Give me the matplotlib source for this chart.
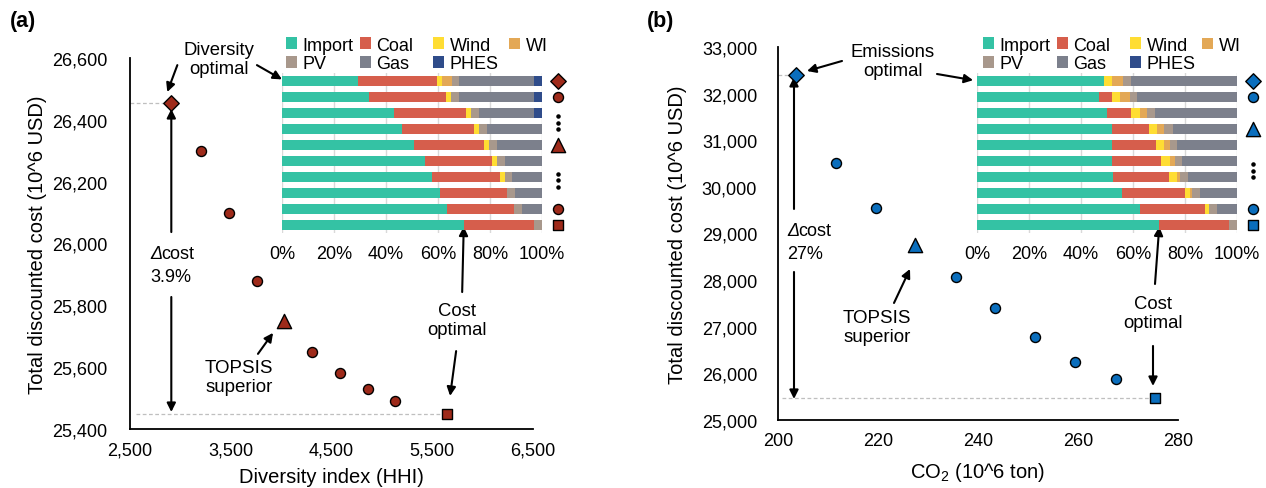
import matplotlib
matplotlib.use("Agg")
import matplotlib.pyplot as plt
from matplotlib.patches import Patch
from matplotlib.transforms import offset_copy
import numpy as np

plt.rcParams['font.family'] = ['Liberation Sans', 'DejaVu Sans']
plt.rcParams['mathtext.fontset'] = 'custom'
plt.rcParams['mathtext.rm'] = 'Liberation Sans'
plt.rcParams['mathtext.it'] = 'Liberation Sans:italic'
plt.rcParams['font.size'] = 13

# ---------------- data ----------------
# Panel (a): diversity (HHI) vs total cost
hhi = [2910, 3200, 3480, 3760, 4030, 4310, 4580, 4860, 5130, 5650]
cost_a = [26455, 26300, 26100, 25880, 25750, 25650, 25580, 25530, 25490, 25450]
marker_a = ['D', 'o', 'o', 'o', '^', 'o', 'o', 'o', 'o', 's']

# Panel (b): CO2 vs total cost
co2 = [203.6, 211.6, 219.6, 227.4, 235.5, 243.4, 251.4, 259.4, 267.6, 275.4]
cost_b = [32400, 30510, 29550, 28750, 28060, 27400, 26780, 26240, 25880, 25470]
marker_b = ['D', 'o', 'o', '^', 'o', 'o', 'o', 'o', 'o', 's']

techs = ['Import', 'Coal', 'Wind', 'WI', 'PV', 'Gas', 'PHES']
tech_colors = ['#34C2A4', '#D65E4C', '#FFDD33', '#E3A856', '#A8988C', '#7C808C', '#2F4C8A']

# generation mix (%) of the 10 solutions, inset (a)
a_import = [29.2, 33.5, 43.0, 46.3, 50.9, 55.0, 57.8, 60.6, 63.3, 69.9]
a_coal   = [30.3, 29.5, 27.7, 27.7, 26.8, 25.7, 26.0, 25.8, 26.0, 26.9]
a_wind   = [1.9, 1.9, 1.9, 1.8, 1.9, 1.9, 1.9, 0, 0, 0]
a_wi     = [3.8, 0, 0, 0, 0, 0, 0, 0, 0, 0]
a_pv     = [2.9, 3.1, 3.1, 2.9, 2.9, 3.1, 2.8, 3.1, 2.9, 3.2]
a_gas    = [28.7, 28.8, 21.1, 21.3, 17.5, 14.3, 11.5, 10.5, 7.8, 0]
a_phes   = [3.2, 3.2, 3.2, 0, 0, 0, 0, 0, 0, 0]

# generation mix (%) inset (b)
b_import = [48.8, 47.1, 49.9, 51.8, 51.8, 51.8, 52.4, 55.8, 62.7, 70.1]
b_coal   = [0, 4.7, 9.5, 14.3, 17.0, 18.9, 21.4, 24.2, 24.9, 26.9]
b_wind   = [3.2, 3.2, 3.3, 3.3, 3.3, 3.5, 3.1, 1.9, 1.8, 0]
b_wi     = [4.0, 3.8, 2.8, 2.7, 2.0, 1.8, 1.2, 0.9, 0, 0]
b_pv     = [3.1, 2.8, 2.9, 3.1, 2.8, 2.8, 3.1, 2.9, 3.1, 3.0]
b_gas    = [40.9, 38.4, 31.6, 24.8, 23.1, 21.2, 18.8, 14.3, 7.5, 0]
b_phes   = [0, 0, 0, 0, 0, 0, 0, 0, 0, 0]

inset_rows_a = [0, 1, 4, 8, 9]
inset_rows_b = [0, 1, 3, 8, 9]
ellipsis_a = [2.6, 6.2]
ellipsis_b = [5.6]

xticks_a = [2500, 3500, 4500, 5500, 6500]
yticks_a = [25400, 25600, 25800, 26000, 26200, 26400, 26600]
xticks_b = [200, 220, 240, 260, 280]
yticks_b = [25000, 26000, 27000, 28000, 29000, 30000, 31000, 32000, 33000]
pct_ticks = [0, 20, 40, 60, 80, 100]

color_a = '#9E2A1A'
color_b = '#0A6EBD'
msize = {'D': 62, 'o': 52, '^': 105, 's': 50}

# ---------------- figure ----------------
W, H = 1266, 489
fig = plt.figure(figsize=(W / 100, H / 100), dpi=100)

def box(l, t, r, b):
    return [l / W, 1 - b / H, (r - l) / W, (b - t) / H]

def fmt(v):
    return f"{v:,}"

arrow = dict(arrowstyle='-|>', color='black', lw=1.5, mutation_scale=13,
             shrinkA=0, shrinkB=0)

def main_axes(rect, xlim, ylim, xt, yt, xlabel, ylabel, ypad, ylabpad, xlabpad):
    ax = fig.add_axes(rect)
    ax.set_xlim(xlim)
    ax.set_ylim(ylim)
    ax.set_xticks(xt, [fmt(v) for v in xt])
    ax.set_yticks(yt, [fmt(v) for v in yt])
    for s in ['top', 'right']:
        ax.spines[s].set_visible(False)
    for s in ['left', 'bottom']:
        ax.spines[s].set_linewidth(1.3)
    ax.tick_params(length=0, labelsize=13)
    ax.tick_params(axis='x', pad=8.7)
    ax.tick_params(axis='y', pad=ypad)
    ax.set_xlabel(xlabel, fontsize=14.5, labelpad=xlabpad)
    ax.set_ylabel(ylabel, fontsize=14.5, labelpad=ylabpad)
    return ax

def scatter_points(ax, xs, ys, markers, color):
    for x, y, m in zip(xs, ys, markers):
        ax.scatter([x], [y], marker=m, s=msize[m], color=color,
                   edgecolors='black', linewidths=1.0, zorder=5, clip_on=False)

def delta_text(ax, x, y1, y2, value):
    ax.text(x, y1, 'Δ', style='italic', ha='left', va='center', fontsize=13)
    ax.text(x, y1, 'cost', ha='left', va='center', fontsize=13,
            transform=offset_copy(ax.transData, fig=fig, x=11.5, y=0, units='dots'))
    ax.text(x, y2, value, ha='left', va='center', fontsize=13)

def inset(rect, mix, rows, markers, ellipses, color):
    axi = fig.add_axes(rect)
    n = len(mix[0])
    y = np.arange(n)
    left = np.zeros(n)
    for vals, c in zip(mix, tech_colors):
        v = np.array(vals, dtype=float)
        axi.barh(y, v, left=left, height=0.64, color=c, zorder=3)
        left += v
    axi.set_xlim(0, 100)
    axi.set_ylim(n - 0.5, -0.5)
    axi.set_xticks(pct_ticks, [f"{p}%" for p in pct_ticks])
    axi.set_yticks([])
    for s in axi.spines.values():
        s.set_visible(False)
    axi.grid(axis='x', color='#D9D9D9', lw=1.0, zorder=0)
    axi.tick_params(length=0, labelsize=13, pad=8.5)
    axi.patch.set_alpha(0)
    for r in rows:
        m = markers[r]
        axi.scatter([106.2], [r], marker=m, s=msize[m], color=color,
                    edgecolors='black', linewidths=1.0, clip_on=False, zorder=5)
    for e in ellipses:
        axi.scatter([106.2] * 3, [e - 0.4, e, e + 0.4], marker='o', s=5,
                    color='black', clip_on=False, zorder=5)
    return axi

def legends(x0s, y_two):
    handles = [Patch(facecolor=c, edgecolor='none') for c in tech_colors]
    cols = [[0, 4], [1, 5], [2, 6], [3]]
    for x0, col in zip(x0s, cols):
        hs = [handles[i] for i in col]
        ls = [techs[i] for i in col]
        yc = y_two if len(col) == 2 else y_two - 9
        fig.legend(hs, ls, loc='center left',
                   bbox_to_anchor=(x0 / W, 1 - yc / H),
                   frameon=False, borderpad=0, borderaxespad=0,
                   handlelength=0.62, handleheight=0.62, handletextpad=0.3,
                   labelspacing=0.1, fontsize=13)

# ======== Panel (a) ========
axa = main_axes(box(130, 59, 533, 430), (2500, 6500), (25400, 26600),
                xticks_a, yticks_a, 'Diversity index (HHI)',
                'Total discounted cost (10^6 USD)', 16.5, 3.6, 6.5)
axa.hlines(cost_a[0], 2500, hhi[0] - 60, colors='#BFBFBF', linestyles=(0, (3, 2)), lw=0.9)
axa.hlines(cost_a[-1], 2560, hhi[-1] - 60, colors='#BFBFBF', linestyles=(0, (3, 2)), lw=0.9)
scatter_points(axa, hhi, cost_a, marker_a, color_a)

axa.annotate('', xy=(hhi[0], 26435), xytext=(hhi[0], 26037), arrowprops=arrow)
axa.annotate('', xy=(hhi[0], 25455), xytext=(hhi[0], 25827), arrowprops=arrow)
delta_text(axa, 2700, 25969, 25893, '3.9%')

insa = inset(box(282, 74, 542, 234),
             [a_import, a_coal, a_wind, a_wi, a_pv, a_gas, a_phes],
             inset_rows_a, marker_a, ellipsis_a, color_a)

axa.text(3380, 26597, 'Diversity\noptimal', ha='center', va='center', fontsize=13.3,
         linespacing=1.2)
axa.annotate('', xy=(2870, 26490), xytext=(2970, 26577), arrowprops=arrow)
axa.annotate('', xy=(0, -0.1), xycoords=insa.transData,
             xytext=(3760, 26577), textcoords=axa.transData, arrowprops=arrow,
             annotation_clip=False)
axa.text(3580, 25568, 'TOPSIS\nsuperior', ha='center', va='center', fontsize=13.5,
         linespacing=1.2)
axa.annotate('', xy=(3920, 25711), xytext=(3770, 25643), arrowprops=arrow)
axa.text(5747, 25753, 'Cost\noptimal', ha='center', va='center', fontsize=13.3,
         linespacing=1.2)
axa.annotate('', xy=(5677, 25507), xytext=(5737, 25652), arrowprops=arrow)
axa.annotate('', xy=(a_import[-1], 9.1), xycoords=insa.transData,
             xytext=(5797, 25843), textcoords=axa.transData, arrowprops=arrow,
             annotation_clip=False)

legends([286, 360, 433, 509], 55.5)
fig.text(10 / W, 1 - 21 / H, '(a)', fontweight='bold', fontsize=15.5,
         ha='left', va='center')

# ======== Panel (b) ========
axb = main_axes(box(778, 48, 1178, 421), (200, 280), (25000, 33000),
                xticks_b, yticks_b, 'CO$_2$ (10^6 ton)',
                'Total discounted cost (10^6 USD)', 15, 11, 8.0)
axb.hlines(cost_b[0], 200, co2[0] - 0.9, colors='#BFBFBF', linestyles=(0, (3, 2)), lw=0.9)
axb.hlines(cost_b[-1], 200.8, co2[-1] - 0.9, colors='#BFBFBF', linestyles=(0, (3, 2)), lw=0.9)
scatter_points(axb, co2, cost_b, marker_b, color_b)

axb.annotate('', xy=(203.2, 32357), xytext=(203.2, 29526), arrowprops=arrow)
axb.annotate('', xy=(203.2, 25451), xytext=(203.2, 28175), arrowprops=arrow)
delta_text(axb, 201.8, 29054, 28561, '27%')

insb = inset(box(977, 74, 1237, 234),
             [b_import, b_coal, b_wind, b_wi, b_pv, b_gas, b_phes],
             inset_rows_b, marker_b, ellipsis_b, color_b)

axb.text(223.0, 32700, 'Emissions\noptimal', ha='center', va='center', fontsize=13.3,
         linespacing=1.2)
axb.annotate('', xy=(205.8, 32485), xytext=(212.8, 32700), arrowprops=arrow)
axb.annotate('', xy=(-1.5, -0.05), xycoords=insb.transData,
             xytext=(231.8, 32421), textcoords=axb.transData, arrowprops=arrow,
             annotation_clip=False)
axb.text(219.8, 26995, 'TOPSIS\nsuperior', ha='center', va='center', fontsize=13.5,
         linespacing=1.2)
axb.annotate('', xy=(226.4, 28239), xytext=(223.2, 27510), arrowprops=arrow)
axb.text(275.0, 27295, 'Cost\noptimal', ha='center', va='center', fontsize=13.3,
         linespacing=1.2)
axb.annotate('', xy=(275.0, 25730), xytext=(275.0, 26588), arrowprops=arrow)
axb.annotate('', xy=(b_import[-1], 9.1), xycoords=insb.transData,
             xytext=(275.4, 27917), textcoords=axb.transData, arrowprops=arrow,
             annotation_clip=False)

legends([983, 1057, 1130, 1202], 55.5)
fig.text(647 / W, 1 - 21 / H, '(b)', fontweight='bold', fontsize=15.5,
         ha='left', va='center')

fig.savefig('out.png', dpi=100)
